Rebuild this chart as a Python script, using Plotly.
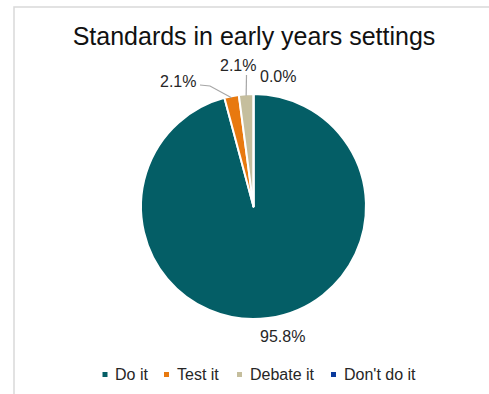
import math
import plotly.graph_objects as go

# Survey responses: how early years settings approach standards
categories = ["Do it", "Test it", "Debate it", "Don't do it"]
responses = [46, 1, 1, 0]
colors = ["#045E66", "#E8790F", "#C5BE9D", "#0A3A9C"]

W, H = 489, 394
FONT = "Liberation Sans, Arial, sans-serif"
cx, cy, r = 253.5, 206.5, 112.5          # pie centre and radius in pixels

# where each percentage label sits (pixel centres) and its leader-line elbow
label_pos = [(282, 336.5), (178, 81), (238, 66), (278, 76.5)]
leader_from = [None, [(200, 85), (210, 86)], [(246.5, 75)], None]

# legend layout: left edge of each swatch
legend_x = [102.5, 164, 237, 331]
legend_y = 374.5

def px(x):
    return x / W

def py(y):
    return 1 - y / H

fig = go.Figure(
    go.Pie(
        labels=categories,
        values=responses,
        sort=False,
        direction="clockwise",
        rotation=0,
        marker=dict(colors=colors, line=dict(color="white", width=2)),
        textinfo="none",
        domain=dict(x=[px(cx - r), px(cx + r)], y=[py(cy + r), py(cy - r)]),
        showlegend=False,
        hoverinfo="label+percent",
    )
)

total = sum(responses)
shapes = []
annotations = []

# percentage labels with leader lines to the slice edge
start = 0.0
for i, v in enumerate(responses):
    frac = v / total
    mid = (start + frac / 2) * 2 * math.pi
    start += frac
    edge_x = cx + r * math.sin(mid)
    edge_y = cy - r * math.cos(mid)
    lx, ly = label_pos[i]
    annotations.append(dict(
        x=px(lx), y=py(ly), xref="paper", yref="paper",
        text=f"{frac * 100:.1f}%", showarrow=False,
        xanchor="center", yanchor="middle",
        font=dict(family=FONT, size=16, color="#262626"),
    ))
    if leader_from[i]:
        pts = leader_from[i] + [(edge_x, edge_y + 1.5)]
        path = "M " + " L ".join(f"{px(x)},{py(y)}" for x, y in pts)
        shapes.append(dict(type="path", xref="paper", yref="paper", path=path,
                           line=dict(color="#A6A6A6", width=1.2)))

# legend: small square swatch followed by the category name
for name, col, x0 in zip(categories, colors, legend_x):
    shapes.append(dict(type="rect", xref="paper", yref="paper",
                       x0=px(x0), x1=px(x0 + 5), y0=py(legend_y + 2.5), y1=py(legend_y - 2.5),
                       fillcolor=col, line=dict(width=0)))
    annotations.append(dict(
        x=px(x0 + 10.5), y=py(legend_y), xref="paper", yref="paper",
        text=name, showarrow=False, xanchor="left", yanchor="middle",
        font=dict(family=FONT, size=16, color="#262626"),
    ))

# frame around the chart area
shapes.append(dict(type="rect", xref="paper", yref="paper",
                   x0=px(14), y0=-0.05, x1=1.05, y1=py(7),
                   line=dict(color="#D9D9D9", width=1.5), layer="below"))

fig.update_layout(
    width=W, height=H,
    margin=dict(l=0, r=0, t=0, b=0),
    paper_bgcolor="white",
    title=dict(text="Standards in early years settings", x=px(254), xanchor="center",
               y=py(36.5), yanchor="middle",
               font=dict(family=FONT, size=25, color="#111111")),
    shapes=shapes,
    annotations=annotations,
)

fig.write_html("out.html")
